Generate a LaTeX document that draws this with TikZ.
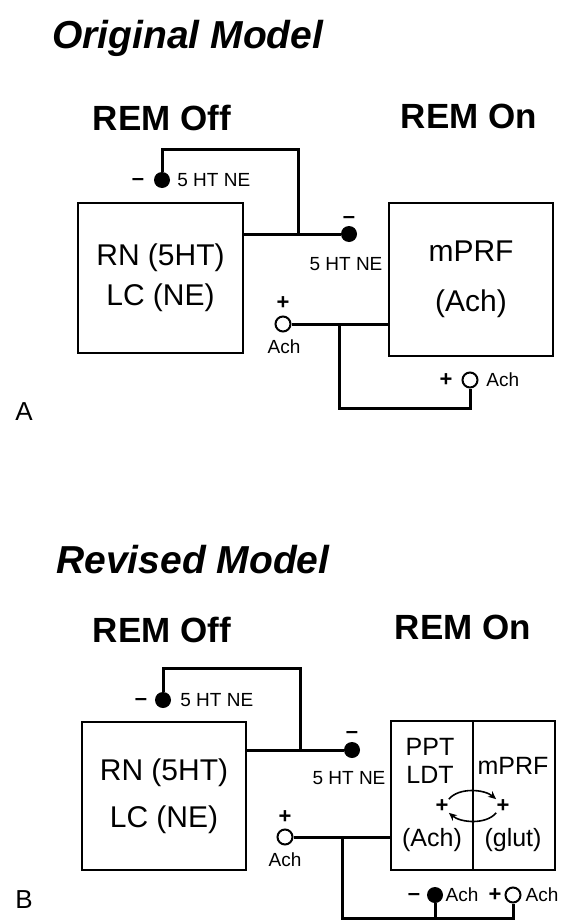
\documentclass[tikz,border=0pt]{standalone}
\usepackage{fontspec}
\setmainfont{Liberation Sans}
\usetikzlibrary{arrows.meta,positioning}

\begin{document}
\begin{tikzpicture}[x=0.5pt,y=-0.5pt,
  head/.style={font=\fontsize{19.5}{22}\selectfont\bfseries\itshape,anchor=base west,inner sep=0},
  state/.style={font=\fontsize{17.5}{20}\selectfont\bfseries,inner sep=0},
  box/.style={draw,line width=0.9pt,inner sep=0,align=center},
  cell/.style={font=\fontsize{12.5}{14}\selectfont,align=center,inner sep=0},
  wire/.style={line width=1.5pt},
  exc/.style={circle,draw,line width=1pt,fill=white,minimum size=7.5pt,inner sep=0},
  inh/.style={circle,fill=black,minimum size=8pt,inner sep=0},
  tag/.style={font=\fontsize{9.5}{11}\selectfont,inner sep=0},
  sign/.style={font=\fontsize{11}{12}\selectfont\bfseries,inner sep=0},
  minus/.style={sign,anchor=mid},
  panel/.style={font=\fontsize{13}{15}\selectfont,inner sep=0},
  loopy/.style={-{Stealth[length=4pt,width=3.5pt]},line width=0.8pt}]
\useasboundingbox (0,0) rectangle (562,921);

\node[head] (titleA) at (52,48) {Original Model};
\node[state] (offA) at (162,118) {REM Off};
\node[state] (onA) at (469,116) {REM On};
\node[box,minimum width=82.5pt,minimum height=75pt,font=\fontsize{15}{20}\selectfont] (rnA) at (160.5,278) {RN (5HT)\\LC (NE)};
\node[box,minimum width=82pt,minimum height=76.5pt,font=\fontsize{15}{25}\selectfont] (prfA) at (471,279.5) {mPRF\\(Ach)};
\node[inh] (dotA1) at (162,180) {};
\node[minus] (minusA1) at (138,180) {–};
\node[tag,anchor=west] (tagA1) at (177,180) {5 HT NE};
\node[inh] (dotA2) at (349,234) {};
\node[minus] (minusA2) at (349,218) {–};
\node[tag] (tagA2) at (346,264) {5 HT NE};
\node[exc] (achA1) at (283,324) {};
\node[sign] (plusA1) at (283,303) {+};
\node[tag] (labA1) at (284,347) {Ach};
\node[exc] (achA2) at (470,380) {};
\node[sign] (plusA2) at (446,380) {+};
\node[tag,anchor=west] (labA2) at (486,380) {Ach};
\coordinate (loopA) at (298,149);
\coordinate (jA) at (298,234);
\coordinate (jA2) at (339,324);
\coordinate (baseA) at (339,408);
\draw[wire] (rnA.east |- dotA2) -- (dotA2);
\draw[wire] (dotA1) |- (loopA) -- (jA);
\draw[wire] (achA1) -- (achA1 -| prfA.west);
\draw[wire] (jA2) -- (baseA) -| (achA2);
\node[panel] (panelA) at (24,412) {A};

\node[head] (titleB) at (56,573) {Revised Model};
\node[state] (offB) at (162,630) {REM Off};
\node[state] (onB) at (463,627) {REM On};
\node[box,minimum width=82pt,minimum height=74pt,font=\fontsize{15}{23.5}\selectfont] (rnB) at (164,796) {RN (5HT)\\LC (NE)};
\node[box,minimum width=41pt,minimum height=74.5pt] (pptB) at (432,795.5) {};
\node[box,minimum width=41pt,minimum height=74.5pt] (prfB) at (514,795.5) {};
\node[cell] (pptT) at (430,761) {PPT\\LDT};
\node[cell] (prfT) at (513,766) {mPRF};
\node[sign] (plusL) at (442,806) {+};
\node[sign] (plusR) at (503,806) {+};
\node[cell] (achT) at (432,840) {(Ach)};
\node[cell] (glutT) at (513,840) {(glut)};
\draw[loopy] (plusL.north east) .. controls +(10,-12) and +(-12,-10) .. (plusR.north west);
\draw[loopy] (plusR.south west) .. controls +(-10,12) and +(12,10) .. (plusL.south east);
\node[inh] (dotB1) at (163,700) {};
\node[minus] (minusB1) at (141,700) {–};
\node[tag,anchor=west] (tagB1) at (180,700) {5 HT NE};
\node[inh] (dotB2) at (352,750) {};
\node[minus] (minusB2) at (352,733) {–};
\node[tag] (tagB2) at (349,778) {5 HT NE};
\node[exc] (achB1) at (285,837) {};
\node[sign] (plusB1) at (285,817) {+};
\node[tag] (labB1) at (285,860) {Ach};
\node[inh] (dotB3) at (435,895) {};
\node[minus] (minusB3) at (414,895) {–};
\node[tag] (labB3) at (462,895) {Ach};
\node[exc] (achB3) at (513,895) {};
\node[sign] (plusB3) at (495,895) {+};
\node[tag] (labB4) at (542,895) {Ach};
\coordinate (loopB) at (300,668);
\coordinate (jB) at (300,750);
\coordinate (jB2) at (342,837);
\coordinate (baseB) at (342,918);
\draw[wire] (rnB.east |- dotB2) -- (dotB2);
\draw[wire] (dotB1) |- (loopB) -- (jB);
\draw[wire] (achB1) -- (achB1 -| pptB.west);
\draw[wire] (jB2) -- (baseB) -| (achB3);
\draw[wire] (dotB3) -- (dotB3 |- baseB);
\node[panel] (panelB) at (24,900) {B};
\end{tikzpicture}
\end{document}
